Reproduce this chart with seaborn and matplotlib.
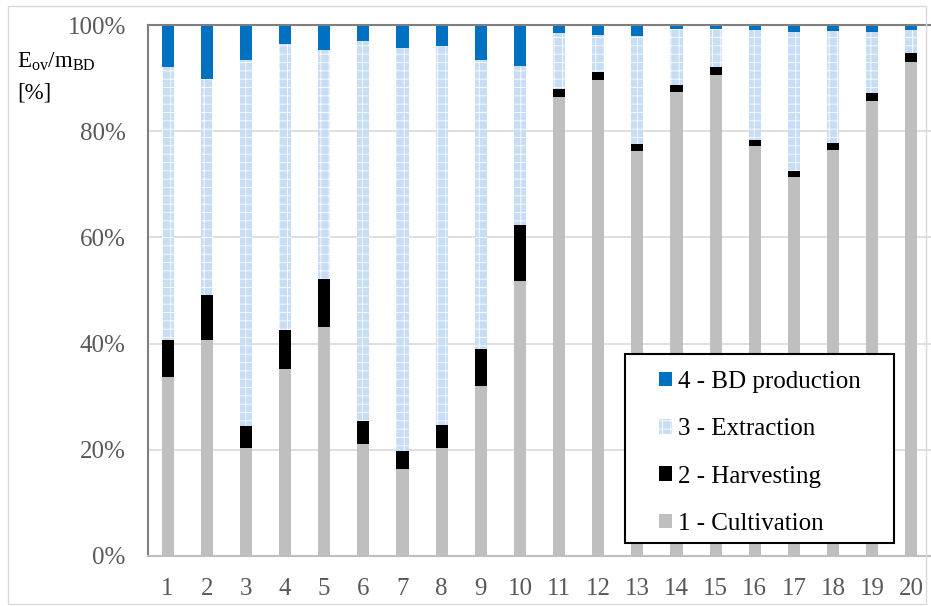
import numpy as np
import pandas as pd
import matplotlib
matplotlib.use("Agg")
import matplotlib.pyplot as plt
import seaborn as sns
from matplotlib.patches import Patch, Rectangle
from matplotlib.ticker import FuncFormatter

# ---- data (percent of total) ----
cases = [str(i) for i in range(1, 21)]
cultivation = [33.7, 40.7, 20.3, 35.2, 43.1, 21.0, 16.4, 20.3, 32.1, 51.7,
               86.5, 89.7, 76.3, 87.3, 90.6, 77.2, 71.3, 76.5, 85.7, 93.1]
harvesting = [7.0, 8.5, 4.2, 7.4, 9.1, 4.4, 3.4, 4.4, 6.8, 10.6,
              1.4, 1.4, 1.3, 1.4, 1.5, 1.2, 1.2, 1.2, 1.4, 1.6]
extraction = [51.4, 40.6, 68.9, 53.8, 43.1, 71.6, 75.9, 71.3, 54.5, 30.0,
              10.5, 7.1, 20.4, 10.6, 7.1, 20.7, 26.1, 21.2, 11.6, 4.3]
bd_production = [7.9, 10.2, 6.6, 3.6, 4.7, 3.0, 4.3, 4.0, 6.6, 7.7,
                 1.6, 1.8, 2.0, 0.7, 0.8, 0.9, 1.4, 1.1, 1.3, 1.0]
series_labels = ["1 - Cultivation", "2 - Harvesting", "3 - Extraction", "4 - BD production"]
y_ticks = [0, 20, 40, 60, 80, 100]

df = pd.DataFrame({"case": cases, "cult": cultivation, "harv": harvesting,
                   "extr": extraction, "bd": bd_production})
df["c1"] = df["cult"]
df["c2"] = df["c1"] + df["harv"]
df["c3"] = df["c2"] + df["extr"]
df["c4"] = df["c3"] + df["bd"]

sns.set_theme(style="white")
plt.rcParams["font.family"] = ["Liberation Serif", "DejaVu Serif"]
plt.rcParams["mathtext.fontset"] = "custom"
plt.rcParams["mathtext.rm"] = "Liberation Serif"
plt.rcParams["mathtext.it"] = "Liberation Serif"
plt.rcParams["hatch.linewidth"] = 0.6

W, H = 931, 606
fig = plt.figure(figsize=(W / 100, H / 100), dpi=100)
ax = fig.add_axes([148 / W, 1 - 556 / H, (931 - 148) / W, (556 - 25) / H])

c_bd = "#0070C0"
c_ex = "#C6DDF3"
c_hv = "#000000"
c_cu = "#BFBFBF"
bw = 0.31

sns.barplot(data=df, x="case", y="c4", color=c_bd, saturation=1, width=bw,
            ax=ax, linewidth=0, zorder=2)
sns.barplot(data=df, x="case", y="c3", color=c_ex, saturation=1, width=bw,
            ax=ax, linewidth=0, hatch="++", edgecolor="white", zorder=2)
sns.barplot(data=df, x="case", y="c2", color=c_hv, saturation=1, width=bw,
            ax=ax, linewidth=0, zorder=2)
sns.barplot(data=df, x="case", y="c1", color=c_cu, saturation=1, width=bw,
            ax=ax, linewidth=0, zorder=2)

ax.set_xlim(-0.5, 19.5)
ax.set_ylim(0, 100)
ax.set_yticks(y_ticks)
ax.yaxis.set_major_formatter(FuncFormatter(lambda v, p: f"{v:.0f}%"))
ax.set_xlabel("")
ax.set_ylabel("")
ax.grid(axis="y", color="#D9D9D9", linewidth=1.2, zorder=0)
ax.set_axisbelow(True)
ax.tick_params(axis="both", length=0, labelsize=18, colors="#595959")
ax.tick_params(axis="y", pad=16)
ax.tick_params(axis="x", pad=16)

for s in ["left", "top"]:
    ax.spines[s].set_color("#7F7F7F")
    ax.spines[s].set_linewidth(1.5)
ax.spines["bottom"].set_color("#BFBFBF")
ax.spines["bottom"].set_linewidth(1.5)
ax.spines["right"].set_visible(False)

fig.text(17 / W, 1 - 68 / H, r"E$_{\mathrm{ov}}$/m$_{\mathrm{BD}}$", fontsize=16.5,
         color="black", ha="left", va="baseline")
fig.text(17 / W, 1 - 99 / H, "[%]", fontsize=16.5, color="black",
         ha="left", va="baseline")

# legend box (drawn separately to get Excel-like padding)
def ax_x(px):
    return (px - 148) / 783


def ax_y(py):
    return (556 - py) / 531


box = Rectangle((ax_x(625), ax_y(543)), ax_x(894) - ax_x(625), ax_y(354) - ax_y(543),
                transform=ax.transAxes, facecolor="white", edgecolor="black",
                linewidth=1.5, zorder=4, clip_on=False)
ax.add_patch(box)

handles = [Patch(facecolor=c_bd, edgecolor="none", label=series_labels[3]),
           Patch(facecolor=c_ex, edgecolor="white", hatch="++", linewidth=0,
                 label=series_labels[2]),
           Patch(facecolor=c_hv, edgecolor="none", label=series_labels[1]),
           Patch(facecolor=c_cu, edgecolor="none", label=series_labels[0])]
leg = ax.legend(handles=handles, loc="upper left",
                bbox_to_anchor=(ax_x(659), ax_y(371)), borderaxespad=0,
                fontsize=18, handlelength=0.52, handleheight=0.52,
                handletextpad=0.26, labelspacing=1.01, borderpad=0,
                frameon=False)
leg.set_zorder(5)
for t in leg.get_texts():
    t.set_color("black")

fig.patches.append(Rectangle((8 / W, 2 / H), (926 - 8) / W, (602 - 4) / H,
                             transform=fig.transFigure, fill=False,
                             edgecolor="#D9D9D9", linewidth=1))

fig.savefig("out.png", dpi=100)
